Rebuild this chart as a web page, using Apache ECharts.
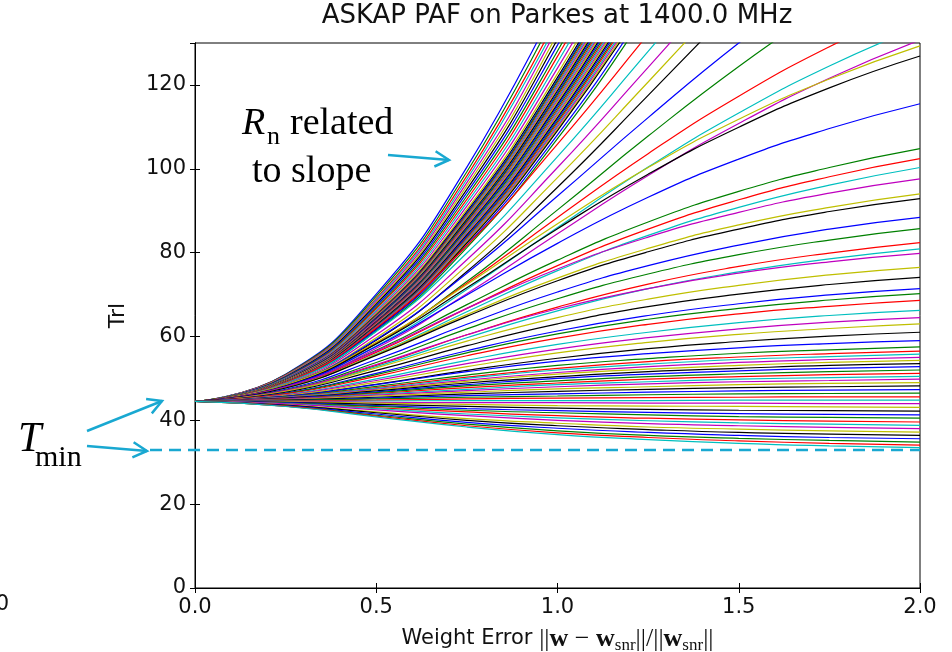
<!DOCTYPE html>
<html>
<head>
<meta charset="utf-8">
<title>ASKAP PAF on Parkes at 1400.0 MHz</title>
<script src="https://cdn.jsdelivr.net/npm/echarts@6/dist/echarts.min.js"></script>
<style>
  html, body { margin: 0; padding: 0; background: #fff; }
  #main { width: 952px; height: 652px; }
</style>
</head>
<body>
<div id="main"></div>
<script>
// weight error samples (x axis)
const xs = [0, 0.25, 0.5, 0.75, 1.0, 1.25, 1.5, 1.75, 2.0];
const xTicks = [0, 0.5, 1.0, 1.5, 2.0];
const yTicks = [0, 20, 40, 60, 80, 100, 120];
const tMin = 32.9;

// Trl curves, one row per curve (values at xs)
// steep bundle leaving the top between x=0.9 and 1.2
const steepCurves = [
  [44.5, 51.0, 70.1, 100.4, 140.0],
  [44.5, 50.9, 69.6, 99.3, 138.1],
  [44.5, 50.8, 69.1, 98.3, 136.3],
  [44.5, 50.7, 68.8, 97.5, 135.0],
  [44.5, 50.6, 68.4, 96.7, 133.6, 176.9],
  [44.5, 50.5, 68.0, 95.9, 132.2, 174.9],
  [44.5, 50.4, 67.7, 95.1, 130.9, 172.9],
  [44.5, 50.3, 67.3, 94.3, 129.5, 170.9],
  [44.5, 50.2, 66.9, 93.5, 128.1, 168.8],
  [44.5, 50.1, 66.6, 92.7, 126.8, 166.8],
  [44.5, 50.0, 66.2, 91.9, 125.4, 164.8],
  [44.5, 49.9, 65.8, 91.1, 124.0, 162.7],
  [44.5, 49.8, 65.5, 90.3, 122.7, 160.7],
  [44.5, 49.8, 65.2, 89.8, 121.8, 159.4],
  [44.5, 49.8, 65.1, 89.5, 121.3, 158.7],
  [44.5, 49.7, 65.0, 89.2, 120.9, 158.0],
  [44.5, 49.7, 64.9, 89.0, 120.4, 157.3],
  [44.5, 49.7, 64.7, 88.7, 120.0, 156.7],
  [44.5, 49.6, 64.6, 88.4, 119.5, 156.0],
  [44.5, 49.6, 64.5, 88.2, 119.0, 155.3],
  [44.5, 49.6, 64.4, 87.9, 118.6, 154.6],
  [44.5, 49.5, 64.3, 87.6, 118.1, 154.0],
  [44.5, 49.5, 64.1, 87.4, 117.7, 153.3],
  [44.5, 49.5, 64.0, 87.1, 117.2, 152.6],
  [44.5, 49.4, 63.9, 86.8, 116.8, 151.9],
  [44.5, 49.4, 63.8, 86.6, 116.3, 151.3],
  [44.5, 49.4, 63.6, 86.3, 115.9, 150.6],
  [44.5, 49.3, 63.5, 86.0, 115.4, 149.9],
  [44.5, 49.3, 63.4, 85.8, 115.0, 149.2],
  [44.5, 49.3, 63.3, 85.5, 114.5, 148.6],
  [44.5, 49.3, 63.2, 85.2, 114.0, 147.9],
  [44.5, 49.2, 63.0, 85.0, 113.6, 147.2],
  [44.5, 49.2, 62.9, 84.7, 113.1, 146.5],
  [44.5, 49.2, 62.8, 84.4, 112.7, 145.9],
  [44.5, 49.1, 62.7, 84.2, 112.2, 145.2],
  [44.5, 49.1, 62.5, 83.9, 111.8, 144.5],
  [44.5, 49.1, 62.4, 83.6, 111.3, 143.8],
  [44.5, 49.0, 62.3, 83.4, 110.9, 143.2],
  [44.5, 49.0, 62.2, 83.1, 110.4, 142.5],
  [44.5, 49.0, 62.1, 82.8, 110.0, 141.8],
  [44.5, 48.9, 61.9, 82.6, 109.5, 141.1],
  [44.5, 48.9, 61.8, 82.3, 109.1, 140.5],
  [44.5, 48.9, 61.6, 81.8, 108.1, 139.1, 173.1],
  [44.5, 48.8, 61.3, 81.2, 107.2, 137.8, 171.2]
];
// curves leaving the top between x=1.2 and 2.0
const exitCurves = [
  [44.5, 49.0, 62.0, 81.7, 105.9, 132.1, 158.7],
  [44.5, 48.8, 61.2, 79.9, 102.9, 128.0, 153.3],
  [44.5, 48.6, 60.4, 78.3, 100.3, 124.2, 148.3],
  [44.5, 48.5, 59.7, 76.9, 97.9, 120.7, 143.9],
  [44.5, 48.3, 59.1, 75.5, 95.6, 117.5, 139.7],
  [44.5, 48.4, 59.3, 75.1, 93.5, 112.2, 130.0, 146.1],
  [44.5, 48.1, 58.3, 73.1, 90.2, 107.8, 124.4, 139.4],
  [44.5, 48.2, 58.5, 72.7, 88.4, 103.6, 117.3, 129.1, 139.1],
  [44.5, 48.0, 57.7, 71.2, 86.0, 100.4, 113.3, 124.5, 133.9],
  [44.5, 47.9, 57.2, 70.2, 84.5, 98.4, 110.8, 121.6, 130.7]
];
// fan of curves ending between 60 and 130
const fanCurves = [
  [44.5, 48.4, 58.6, 72.4, 86.9, 100.3, 111.8, 121.4, 129.3],
  [44.5, 48.2, 58.2, 71.6, 85.7, 98.7, 109.9, 119.3, 126.9],
  [44.5, 48.1, 57.6, 69.9, 82.2, 93.2, 102.3, 109.6, 115.5],
  [44.5, 47.9, 56.7, 67.6, 78.2, 87.3, 94.6, 100.3, 104.8],
  [44.5, 47.8, 56.2, 66.7, 76.9, 85.6, 92.6, 98.1, 102.4],
  [44.5, 47.7, 55.8, 65.9, 75.7, 84.1, 90.8, 96.1, 100.3],
  [44.5, 48.0, 56.5, 66.7, 76.1, 83.7, 89.6, 94.2, 97.6],
  [44.5, 47.7, 55.7, 65.2, 73.9, 81.0, 86.6, 90.8, 94.0],
  [44.5, 47.7, 55.5, 64.8, 73.3, 80.2, 85.6, 89.8, 92.9],
  [44.5, 47.4, 54.5, 62.9, 70.6, 76.9, 81.8, 85.6, 88.4],
  [44.5, 47.2, 53.8, 61.8, 69.0, 74.9, 79.5, 83.0, 85.7],
  [44.5, 47.0, 53.1, 60.4, 67.0, 72.5, 76.7, 79.9, 82.4],
  [44.5, 46.9, 52.8, 59.7, 66.1, 71.4, 75.4, 78.5, 80.9],
  [44.5, 47.1, 53.3, 60.4, 66.6, 71.4, 75.1, 77.8, 79.8],
  [44.5, 46.9, 52.5, 58.9, 64.5, 68.9, 72.2, 74.7, 76.5],
  [44.5, 46.7, 51.9, 57.8, 63.0, 67.1, 70.1, 72.4, 74.1],
  [44.5, 46.5, 51.2, 56.6, 61.3, 65.0, 67.8, 69.9, 71.4],
  [44.5, 46.4, 50.9, 56.1, 60.6, 64.1, 66.7, 68.7, 70.2],
  [44.5, 46.3, 50.5, 55.4, 59.6, 62.9, 65.4, 67.2, 68.6],
  [44.5, 46.1, 49.9, 54.3, 58.1, 61.0, 63.3, 65.0, 66.2],
  [44.5, 46.0, 49.5, 53.5, 57.0, 59.7, 61.8, 63.4, 64.5],
  [44.5, 45.9, 49.1, 52.8, 56.1, 58.6, 60.5, 61.9, 63.0],
  [44.5, 45.7, 48.6, 51.9, 54.8, 57.1, 58.8, 60.1, 61.0]
];
// nearly flat curves ending between 44.5 and 60
const flatCurves = [
  [44.5, 45.7, 48.5, 51.6, 54.1, 55.9, 57.3, 58.3, 59.0],
  [44.5, 45.6, 48.1, 50.8, 53.1, 54.7, 56.0, 56.8, 57.5],
  [44.5, 45.5, 47.8, 50.3, 52.4, 54.0, 55.1, 55.9, 56.5],
  [44.5, 45.5, 47.6, 50.0, 52.0, 53.4, 54.5, 55.2, 55.8],
  [44.5, 45.4, 47.4, 49.6, 51.4, 52.8, 53.8, 54.5, 55.0],
  [44.5, 45.3, 47.2, 49.3, 51.0, 52.2, 53.1, 53.8, 54.3],
  [44.5, 45.3, 47.0, 48.9, 50.4, 51.6, 52.4, 53.1, 53.5],
  [44.5, 45.2, 46.8, 48.5, 50.0, 51.0, 51.8, 52.4, 52.8],
  [44.5, 45.1, 46.6, 48.2, 49.4, 50.4, 51.1, 51.6, 52.0],
  [44.5, 45.1, 46.4, 47.8, 48.9, 49.8, 50.4, 50.9, 51.2],
  [44.5, 45.0, 46.2, 47.4, 48.5, 49.2, 49.8, 50.2, 50.5],
  [44.5, 45.0, 46.0, 47.1, 48.0, 48.7, 49.2, 49.5, 49.8],
  [44.5, 44.9, 45.8, 46.7, 47.5, 48.0, 48.5, 48.8, 49.0],
  [44.5, 44.8, 45.5, 46.3, 46.9, 47.4, 47.8, 48.0, 48.2],
  [44.5, 44.7, 45.3, 45.9, 46.3, 46.7, 47.0, 47.2, 47.3],
  [44.5, 44.7, 45.1, 45.5, 45.8, 46.1, 46.3, 46.4, 46.5],
  [44.5, 44.6, 44.8, 45.1, 45.3, 45.4, 45.5, 45.6, 45.6],
  [44.5, 44.5, 44.6, 44.7, 44.7, 44.7, 44.8, 44.8, 44.8]
];
// curves falling towards Tmin
const lowCurves = [
  [44.5, 44.5, 44.3, 44.2, 44.2, 44.1, 44.1, 44.0, 44.0],
  [44.5, 44.4, 44.1, 43.8, 43.5, 43.4, 43.3, 43.2, 43.1],
  [44.5, 44.3, 43.8, 43.3, 42.9, 42.6, 42.4, 42.3, 42.2],
  [44.5, 44.2, 43.5, 42.8, 42.3, 41.9, 41.6, 41.4, 41.3],
  [44.5, 44.1, 43.3, 42.4, 41.8, 41.3, 40.9, 40.7, 40.5],
  [44.5, 44.0, 43.0, 42.0, 41.1, 40.5, 40.1, 39.8, 39.6],
  [44.5, 44.0, 42.8, 41.5, 40.6, 39.9, 39.4, 39.1, 38.8],
  [44.5, 43.9, 42.5, 41.1, 40.0, 39.2, 38.7, 38.3, 38.0],
  [44.5, 43.7, 42.0, 40.4, 39.3, 38.4, 37.9, 37.5, 37.2],
  [44.5, 43.6, 41.8, 40.0, 38.7, 37.8, 37.1, 36.7, 36.4],
  [44.5, 43.5, 41.5, 39.5, 38.1, 37.1, 36.4, 35.9, 35.6],
  [44.5, 43.4, 41.2, 39.1, 37.5, 36.4, 35.7, 35.2, 34.8],
  [44.5, 43.4, 41.0, 38.7, 37.0, 35.9, 35.1, 34.5, 34.1],
  [44.5, 43.3, 40.8, 38.4, 36.6, 35.4, 34.5, 33.9, 33.5]
];

// matplotlib classic colour cycle
const palette = ['#0000ff', '#008000', '#ff0000', '#00bfbf', '#bf00bf', '#bfbf00', '#000000'];
const cyan = '#19a8d1';

const allCurves = [].concat(steepCurves, exitCurves, fanCurves, flatCurves, lowCurves);

const series = allCurves.map((row, i) => ({
    type: 'line',
    data: row.map((v, j) => [xs[j], v]),
    showSymbol: false,
    smooth: 0.5,
    clip: true,
    silent: true,
    lineStyle: { width: 1.2, color: palette[i % palette.length] }
}));

const tickFont = { fontFamily: 'DejaVu Sans', fontSize: 21, color: '#111' };
const frameAxis = (extra) => Object.assign({
    axisLine: { lineStyle: { color: '#000', width: 1 } },
    axisTick: { inside: true, length: 5, lineStyle: { color: '#000' } },
    splitLine: { show: false }
}, extra);

const chartDom = document.getElementById('main');
const myChart = echarts.init(chartDom, null, { renderer: 'canvas' });

const option = {
    animation: false,
    backgroundColor: '#fff',
    textStyle: { fontFamily: 'DejaVu Sans' },
    title: {
        text: 'ASKAP PAF on Parkes at 1400.0 MHz',
        left: 557,
        textAlign: 'center',
        top: 3,
        padding: 0,
        textStyle: { fontFamily: 'DejaVu Sans', fontSize: 26, fontWeight: 'normal', color: '#111' }
    },
    grid: {
        left: 195, right: 32, top: 43, bottom: 64,
        outerBoundsMode: 'none', containLabel: false,
        show: true, borderColor: '#000', borderWidth: 1, backgroundColor: 'transparent'
    },
    xAxis: [
        frameAxis({
            type: 'value', min: xTicks[0], max: xTicks[xTicks.length - 1], interval: xTicks[1] - xTicks[0],
            position: 'bottom',
            axisLabel: Object.assign({ margin: 9, formatter: (v) => v.toFixed(1) }, tickFont),
            name: '{t|Weight Error }{m|||}{b|w}{m| − }{b|w}{s|snr}{m|||/||}{b|w}{s|snr}{m|||}',
            nameLocation: 'middle',
            nameGap: 36,
            nameTextStyle: {
                rich: {
                    t: { fontFamily: 'DejaVu Sans', fontSize: 21, color: '#111', lineHeight: 30 },
                    m: { fontFamily: 'Liberation Serif', fontSize: 26, color: '#111', lineHeight: 30 },
                    b: { fontFamily: 'Liberation Serif', fontWeight: 'bold', fontSize: 26, color: '#111', lineHeight: 30 },
                    s: { fontFamily: 'Liberation Serif', fontSize: 17, color: '#111', lineHeight: 30, verticalAlign: 'bottom' }
                }
            }
        }),
        frameAxis({
            type: 'value', min: xTicks[0], max: xTicks[xTicks.length - 1], interval: xTicks[1] - xTicks[0],
            position: 'top', axisLabel: { show: false }
        })
    ],
    yAxis: [
        frameAxis({
            type: 'value', min: yTicks[0], max: 130, interval: yTicks[1] - yTicks[0],
            position: 'left',
            axisLabel: Object.assign({ margin: 9, showMaxLabel: false }, tickFont),
            name: 'Trl',
            nameLocation: 'middle',
            nameGap: 66,
            nameTextStyle: { fontFamily: 'DejaVu Sans', fontSize: 22, color: '#111' }
        }),
        frameAxis({
            type: 'value', min: yTicks[0], max: 130, interval: yTicks[1] - yTicks[0],
            position: 'right', axisLabel: { show: false }
        })
    ],
    series: series
};
myChart.setOption(option);

// annotations
function arrow(x1, y1, x2, y2) {
    const ang = Math.atan2(y2 - y1, x2 - x1), L = 16, w = 0.5;
    const p1 = [x2 - L * Math.cos(ang - w), y2 - L * Math.sin(ang - w)];
    const p2 = [x2 - L * Math.cos(ang + w), y2 - L * Math.sin(ang + w)];
    return [
        { type: 'line', z: 100, shape: { x1: x1, y1: y1, x2: x2, y2: y2 }, style: { stroke: cyan, lineWidth: 2.5 } },
        { type: 'polyline', z: 100, shape: { points: [p1, [x2, y2], p2] }, style: { stroke: cyan, lineWidth: 2.5, fill: null } }
    ];
}
function label(text, x, y, font) {
    return { type: 'text', z: 100, x: x, y: y, style: { text: text, font: font, fill: '#000', textAlign: 'left', verticalAlign: 'middle' } };
}

const yMin = myChart.convertToPixel({ yAxisIndex: 0 }, tMin);
const xEnd = myChart.convertToPixel({ xAxisIndex: 0 }, xTicks[xTicks.length - 1]);

const graphic = [
    { type: 'line', z: 90, shape: { x1: 150, y1: yMin, x2: xEnd, y2: yMin }, style: { stroke: cyan, lineWidth: 2.5, lineDash: [12, 7] } },
    label('R', 242, 124, 'italic 38px "Liberation Serif"'),
    label('n', 267, 137, '26px "Liberation Serif"'),
    label('related', 290, 124, '38px "Liberation Serif"'),
    label('to slope', 252, 172, '38px "Liberation Serif"'),
    label('T', 18, 440, 'italic 42px "Liberation Serif"'),
    label('min', 35, 458, '30px "Liberation Serif"'),
    { type: 'text', z: 100, x: 9, y: 605, style: { text: '0', font: '21px "DejaVu Sans"', fill: '#111', textAlign: 'right', verticalAlign: 'middle' } }
].concat(arrow(388, 155, 449, 160), arrow(87, 431, 162, 401), arrow(87, 446, 147, 451));

myChart.setOption({ graphic: graphic });
</script>
</body>
</html>
